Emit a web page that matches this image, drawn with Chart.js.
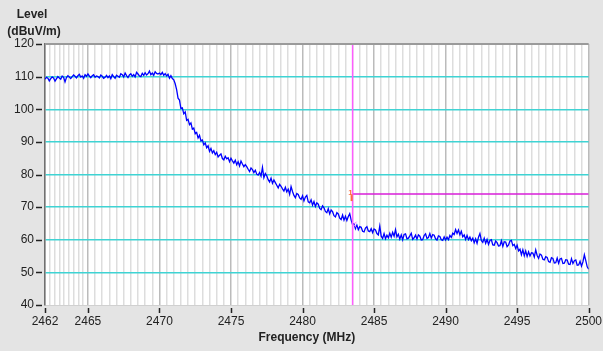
<!DOCTYPE html>
<html>
<head>
<meta charset="utf-8">
<script src="https://cdn.jsdelivr.net/npm/chart.js@4.4.1/dist/chart.umd.min.js"></script>
<style>
  body { margin: 0; background: #e4e4e4; }
  #wrap { width: 603px; height: 351px; }
</style>
</head>
<body>
<div id="wrap"><canvas id="chart" width="603" height="351"></canvas></div>
<script>
// Sweep: 2462 .. 2500 MHz, one reading every 0.1 MHz
const startFreq = 2462;
const stepFreq = 0.1;
const levels = [
  109.2, 109.8, 109.5, 108.7, 109.4, 109.9, 109.6, 108.6, 109.3, 110.0,
  109.6, 109.2, 110.2, 109.8, 108.4, 109.7, 110.3, 109.9, 109.4, 110.0,
  110.5, 110.1, 109.6, 110.3, 110.7, 109.9, 110.2, 109.5, 110.6, 110.1,
  110.8, 110.2, 109.7, 110.3, 110.6, 109.8, 110.2, 110.0, 109.6, 110.5,
  110.1, 109.5, 109.8, 110.4, 109.7, 110.2, 109.4, 110.6, 110.0, 109.5,
  110.4, 110.1, 109.8, 110.9, 110.6, 109.9, 111.1, 110.3, 109.7, 110.5,
  110.9, 110.1, 110.6, 109.9, 111.3, 110.8, 110.2, 110.0, 111.0, 110.4,
  111.2, 110.5, 110.9, 111.7, 110.6, 111.1, 110.4, 111.5, 111.0, 110.8,
  111.1, 110.6, 111.3, 110.4, 110.9, 110.2, 110.7, 109.5, 110.3, 109.4,
  109.0, 107.8, 106.0, 103.4, 102.8, 100.2, 100.4, 98.6, 99.2, 96.6,
  96.9, 95.3, 95.8, 93.9, 94.2, 92.5, 92.9, 91.2, 92.0, 90.3,
  90.6, 89.1, 89.7, 88.2, 88.8, 87.1, 88.0, 86.6, 87.3, 86.1,
  86.8, 85.4, 85.9, 86.3, 84.9, 84.5, 85.6, 84.8, 85.1, 83.9,
  85.0, 84.2, 83.5, 84.4, 83.0, 83.9, 82.6, 84.1, 83.2, 82.4,
  83.0, 82.4, 81.6, 80.9, 82.0, 81.5, 80.6, 81.3, 80.1, 79.8,
  80.6, 79.5, 82.2, 79.0, 80.3, 79.6, 78.4, 77.7, 78.9, 77.3,
  78.3, 77.5, 76.7, 75.9, 77.0, 76.4, 75.6, 74.9, 76.1, 74.7,
  75.5, 73.9, 76.3, 74.8, 73.6, 72.9, 74.2, 73.9, 72.8, 72.4,
  73.5, 71.9, 73.1, 73.6, 71.6, 71.3, 72.2, 70.6, 71.7, 70.2,
  71.3, 70.9, 69.6, 69.2, 70.4, 69.8, 68.7, 68.3, 69.5, 67.9,
  69.1, 68.6, 67.4, 67.0, 68.3, 67.9, 66.6, 66.2, 67.6, 66.0,
  67.2, 65.9, 67.1, 68.0, 66.0, 64.6, 64.9, 63.4, 64.5, 63.1,
  64.0, 63.8, 62.6, 62.4, 63.6, 64.0, 62.7, 62.5, 63.4, 62.2,
  63.3, 63.0, 61.9, 61.5, 64.2, 61.1, 60.4, 61.9, 60.3, 61.4,
  60.6, 62.0, 60.8, 62.3, 61.1, 63.1, 60.9, 61.7, 60.2, 61.5,
  60.0, 61.6, 61.8, 60.3, 60.5, 61.2, 62.0, 60.1, 60.6, 61.4,
  60.2, 61.5, 61.1, 59.9, 60.0, 61.3, 61.8, 60.4, 60.7, 61.9,
  60.5, 61.6, 61.4, 60.3, 59.9, 61.2, 61.0, 60.0, 59.8, 60.9,
  59.9, 60.8, 60.0, 61.3, 60.7, 62.0, 61.6, 63.1, 61.9, 63.0,
  61.5, 62.6, 60.9, 61.5, 60.1, 61.3, 60.0, 60.8, 59.7, 60.5,
  59.1, 60.3, 58.9, 60.8, 61.9, 59.8, 59.2, 60.5, 58.9, 60.1,
  58.6, 59.8, 60.0, 58.4, 58.3, 59.6, 59.1, 58.1, 58.2, 59.7,
  58.0, 59.4, 59.3, 57.9, 58.4, 59.6, 59.8, 58.2, 58.6, 57.3,
  58.3, 56.6, 57.1, 55.4, 56.9, 55.1, 56.6, 54.9, 56.3, 55.0,
  56.0, 55.9, 54.7, 56.9, 55.2, 54.3, 55.6, 55.3, 54.0, 53.8,
  54.8, 54.6, 53.3, 53.1, 54.5, 54.3, 52.9, 53.0, 54.4, 52.8,
  54.1, 54.3, 52.7, 52.8, 53.9, 53.8, 52.5, 52.4, 54.2, 52.7,
  53.6, 53.8, 52.2, 52.3, 53.4, 51.9, 53.2, 55.4, 53.6, 51.7,
  51.0
];

const xTicks = [2462, 2465, 2470, 2475, 2480, 2485, 2490, 2495, 2500];
const yTicks = [40, 50, 60, 70, 80, 90, 100, 110, 120];

// cursor / limit line
const markerFreq = 2483.5;
const limitLevel = 74;

const xMin = xTicks[0];
const xMax = xTicks[xTicks.length - 1];
const yMin = yTicks[0];
const yMax = yTicks[yTicks.length - 1];

const tracePoints = levels.map((v, i) => ({ x: +(startFreq + i * stepFreq).toFixed(1), y: v }));

// minor grid: each major interval split (first one in thirds of MHz, rest in halves)
const minorTicks = [];
for (let i = 0; i < xTicks.length - 1; i++) {
    const a = xTicks[i], b = xTicks[i + 1];
    const n = (b - a) === 3 ? 9 : 10;
    for (let k = 1; k < n; k++) minorTicks.push(a + (b - a) * k / n);
}

const backdrop = {
    id: 'backdrop',
    beforeDraw(chart) {
        const { ctx, chartArea: a } = chart;
        ctx.save();
        ctx.fillStyle = '#e4e4e4';
        ctx.fillRect(0, 0, chart.width, chart.height);
        ctx.fillStyle = '#ffffff';
        ctx.fillRect(a.left, a.top, a.right - a.left, a.bottom - a.top);
        ctx.restore();
    },
    afterDraw(chart) {
        const { ctx, chartArea: a, scales } = chart;
        ctx.save();
        // top frame
        ctx.strokeStyle = '#9a9a9a';
        ctx.lineWidth = 2;
        ctx.beginPath();
        ctx.moveTo(a.left, a.top);
        ctx.lineTo(a.right, a.top);
        ctx.stroke();

        // tick marks, set a little off the axes
        ctx.strokeStyle = '#222';
        ctx.lineWidth = 1.5;
        ctx.beginPath();
        yTicks.forEach(v => {
            const py = Math.round(scales.y.getPixelForValue(v)) + 0.5;
            ctx.moveTo(a.left - 9, py);
            ctx.lineTo(a.left - 3, py);
        });
        xTicks.forEach(v => {
            const px = Math.round(scales.x.getPixelForValue(v)) + 0.5;
            ctx.moveTo(px, a.bottom + 3);
            ctx.lineTo(px, a.bottom + 8);
        });
        ctx.stroke();

        // axis captions
        ctx.fillStyle = '#222';
        ctx.font = 'bold 12px "Liberation Sans", Arial, sans-serif';
        ctx.textAlign = 'center';
        ctx.textBaseline = 'middle';
        ctx.fillText('Level', 32, 15);
        ctx.fillText('(dBuV/m)', 34, 32);
        ctx.fillText('Frequency (MHz)', (a.left + a.right) / 2 - 10, 338);

        // marker glyphs
        const mx = scales.x.getPixelForValue(markerFreq);
        const my = scales.y.getPixelForValue(limitLevel);
        ctx.fillStyle = '#ff6a3a';
        ctx.font = 'bold 8px "Liberation Sans", Arial, sans-serif';
        ctx.fillText('1', mx - 2, my - 1);
        ctx.fillRect(mx - 2, my + 1, 2, 6);
        const idx = Math.round((markerFreq - startFreq) / stepFreq);
        const ty = scales.y.getPixelForValue(levels[idx]);
        ctx.strokeStyle = '#ff66ff';
        ctx.lineWidth = 1;
        ctx.beginPath();
        ctx.moveTo(mx + 4, ty - 3);
        ctx.lineTo(mx + 1, ty);
        ctx.lineTo(mx + 4, ty + 3);
        ctx.stroke();
        ctx.restore();
    }
};

new Chart(document.getElementById('chart'), {
    type: 'line',
    data: {
        datasets: [
            {
                data: tracePoints,
                borderColor: '#0000ff',
                borderWidth: 1.3,
                pointRadius: 0,
                tension: 0,
                order: 3
            },
            {
                data: [{ x: markerFreq, y: yMin }, { x: markerFreq, y: yMax }],
                borderColor: '#ff5cff',
                borderWidth: 1.5,
                pointRadius: 0,
                order: 1
            },
            {
                data: [{ x: markerFreq, y: limitLevel }, { x: xMax, y: limitLevel }],
                borderColor: '#d81ed8',
                borderWidth: 1.5,
                pointRadius: 0,
                order: 2
            }
        ]
    },
    options: {
        responsive: false,
        animation: false,
        layout: { padding: { top: 44, right: 14, left: 0, bottom: 0 } },
        plugins: {
            legend: { display: false },
            tooltip: { enabled: false }
        },
        scales: {
            xMinor: {
                type: 'linear',
                position: 'bottom',
                min: xMin,
                max: xMax,
                weight: 1,
                afterBuildTicks: s => { s.ticks = minorTicks.map(v => ({ value: v })); },
                afterFit: s => { s.height = 0; },
                ticks: { display: false },
                grid: { color: '#dddddd', lineWidth: 1.5, drawTicks: false },
                border: { display: false }
            },
            x: {
                type: 'linear',
                position: 'bottom',
                min: xMin,
                max: xMax,
                weight: 2,
                afterBuildTicks: s => { s.ticks = xTicks.map(v => ({ value: v })); },
                afterFit: s => { s.height = 46; },
                ticks: {
                    color: '#222',
                    font: { family: '"Liberation Sans", Arial, sans-serif', size: 12 },
                    padding: 1,
                    maxRotation: 0,
                    callback: v => String(v)
                },
                // tick marks are drawn by the plugin; these only keep the spacing
                grid: { color: '#bbbbbb', lineWidth: 1.5, tickColor: 'rgba(0,0,0,0)', tickLength: 8 },
                border: { color: '#d0d0d0', width: 1 }
            },
            y: {
                type: 'linear',
                min: yMin,
                max: yMax,
                afterBuildTicks: s => { s.ticks = yTicks.map(v => ({ value: v })); },
                afterFit: s => { s.width = 45; },
                ticks: {
                    color: '#222',
                    font: { family: '"Liberation Sans", Arial, sans-serif', size: 12 },
                    padding: 2
                },
                grid: {
                    color: c => (c.tick && (c.tick.value === yMin || c.tick.value === yMax)) ? 'rgba(0,0,0,0)' : '#3fd3d3',
                    lineWidth: 1.5,
                    tickColor: 'rgba(0,0,0,0)',
                    tickLength: 9
                },
                border: { color: '#707070', width: 1.5 }
            }
        }
    },
    plugins: [backdrop]
});
</script>
</body>
</html>
